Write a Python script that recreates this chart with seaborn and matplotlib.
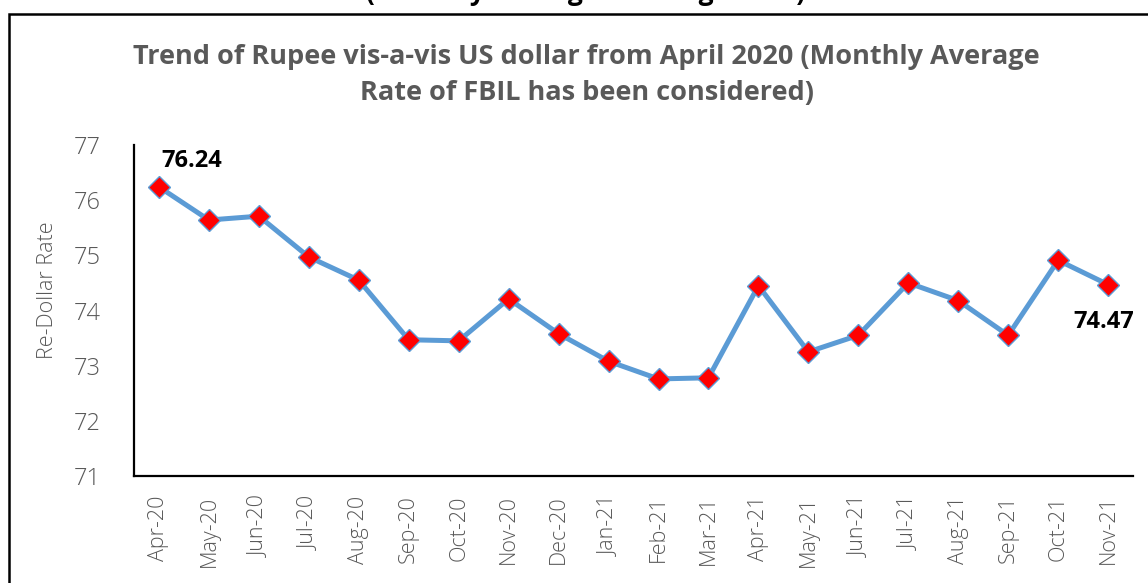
import pandas as pd
import matplotlib.pyplot as plt
import seaborn as sns
from matplotlib.patches import Rectangle

# Monthly average rate (FBIL)
months = ['Apr-20', 'May-20', 'Jun-20', 'Jul-20', 'Aug-20', 'Sep-20', 'Oct-20',
          'Nov-20', 'Dec-20', 'Jan-21', 'Feb-21', 'Mar-21', 'Apr-21', 'May-21',
          'Jun-21', 'Jul-21', 'Aug-21', 'Sep-21', 'Oct-21', 'Nov-21']
rates = [76.24, 75.64, 75.71, 74.97, 74.55, 73.47, 73.45, 74.21, 73.58, 73.08,
         72.76, 72.78, 74.45, 73.25, 73.55, 74.50, 74.18, 73.55, 74.91, 74.47]
y_ticks = [71, 72, 73, 74, 75, 76, 77]

title = "Trend of Rupee vis-a-vis US dollar from April 2020 (Monthly Average\nRate of FBIL has been considered)"
top_text = "(Monthly Average Exchange Rate)"

df = pd.DataFrame({'month': months, 'rate': rates})

sns.set_style('white')
plt.rcParams['font.family'] = ['Open Sans', 'DejaVu Sans']

grey = '#595959'
blue = '#5B9BD5'
tick_font = ['Open Sans', 'DejaVu Sans']

fig = plt.figure(figsize=(11.48, 5.83), dpi=100)
ax = fig.add_axes([0.1167, 0.1835, 0.8703, 0.5678])

sns.lineplot(
    data=df,
    x='month',
    y='rate',
    sort=False,
    color=blue,
    linewidth=3.6,
    marker='D',
    markersize=11,
    markerfacecolor='red',
    markeredgecolor=blue,
    markeredgewidth=1,
    ax=ax
)

ax.set_xlim(-0.5, len(months) - 0.5)
ax.set_ylim(y_ticks[0], y_ticks[-1])
ax.set_yticks(y_ticks)
ax.set_yticklabels([str(t) for t in y_ticks], family=tick_font, fontweight='light',
                   fontsize=17, color=grey)
ax.set_xticks(range(len(months)))
ax.set_xticklabels(months, rotation=90, family=tick_font, fontweight='light',
                   fontsize=15.5, color=grey)
ax.tick_params(axis='both', length=0)
ax.tick_params(axis='y', pad=24)
ax.tick_params(axis='x', pad=14)

ax.set_xlabel('')
ax.set_ylabel('Re-Dollar Rate', family=tick_font, fontweight='light', fontsize=15.5,
              color=grey)
ax.yaxis.set_label_coords(-0.076, 0.56)

for side in ['top', 'right']:
    ax.spines[side].set_visible(False)
for side in ['left', 'bottom']:
    ax.spines[side].set_color('black')
    ax.spines[side].set_linewidth(1.6)

# data labels on first and last point
ax.annotate(f"{rates[0]:.2f}", (0, rates[0]), xytext=(2, 10), textcoords='offset points',
            ha='left', va='bottom', fontsize=17, fontweight='bold', color='black')
ax.annotate(f"{rates[-1]:.2f}", (len(months) - 1, rates[-1]), xytext=(-3, -18),
            textcoords='offset points', ha='center', va='top', fontsize=17,
            fontweight='bold', color='black')

fig.text(0.511, 1 - 75 / 583, title, ha='center', va='center', fontsize=19.5,
         fontweight='bold', color=grey, linespacing=1.5)

# piece of outer heading and frame, cut off as in the source
fig.text(0.51, 1 - 6 / 583, top_text, ha='center', va='bottom', fontsize=19,
         fontweight='bold', color='black')
fig.add_artist(Rectangle((9 / 1148, -0.1), 1.2, 1.1 - 14 / 583, transform=fig.transFigure,
                         fill=False, edgecolor='black', linewidth=1.8))

fig.savefig('out.png', dpi=100)
